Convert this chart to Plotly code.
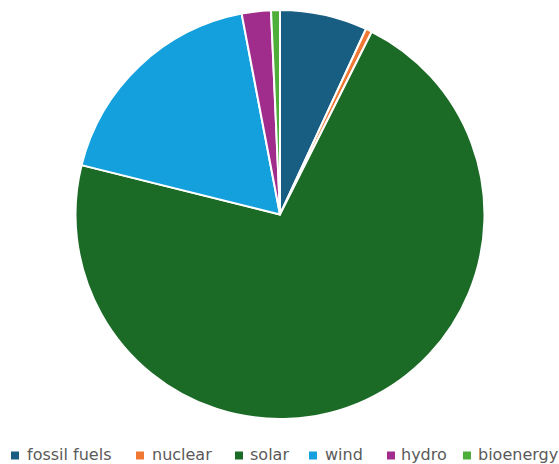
import plotly.graph_objects as go

labels = ["fossil fuels", "nuclear", "solar", "wind", "hydro", "bioenergy"]
values = [6.9, 0.5, 71.4, 18.1, 2.3, 0.7]
colors = ["#175E82", "#F07832", "#1B6B27", "#14A0DC", "#A02D8C", "#4DAF3A"]

W, H = 559, 464
ML, MR, MT, MB = 1, 0, 10, 45
PW, PH = W - ML - MR, H - MT - MB

fig = go.Figure(go.Pie(
    labels=labels, values=values, sort=False, direction="clockwise", rotation=0,
    marker=dict(colors=colors, line=dict(color="white", width=2)),
    textinfo="none", hoverinfo="label+percent", showlegend=False,
))

# custom legend (pixel layout)
sq_left = [11, 136, 235, 309, 387, 463]
txt_left = [25, 150, 248, 323, 399, 476]
legend_y = 454.5
sq = 8

def px(x):
    return (x - ML) / PW

def py(y):
    return (H - MB - y) / PH

shapes = []
annotations = []
for lab, col, sx, tx in zip(labels, colors, sq_left, txt_left):
    shapes.append(dict(type="rect", xref="paper", yref="paper",
                       x0=px(sx), x1=px(sx + sq), y0=py(legend_y + 1 + sq / 2), y1=py(legend_y + 1 - sq / 2),
                       fillcolor=col, line=dict(width=0)))
    annotations.append(dict(text=lab, xref="paper", yref="paper", x=px(tx), y=py(legend_y),
                            xanchor="left", yanchor="middle", showarrow=False,
                            font=dict(family="DejaVu Sans", size=16, color="#5a5a5a")))

fig.update_layout(
    width=W, height=H,
    margin=dict(l=ML, r=MR, t=MT, b=MB),
    paper_bgcolor="white",
    font=dict(family="DejaVu Sans", size=16, color="#5a5a5a"),
    shapes=shapes, annotations=annotations,
)
fig.write_html("out.html")
